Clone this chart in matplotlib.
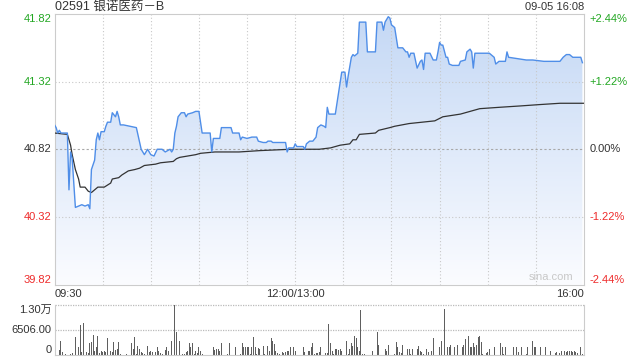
import matplotlib
matplotlib.use("Agg")
import matplotlib.pyplot as plt
import numpy as np
from matplotlib.colors import LinearSegmentedColormap

plt.rcParams['font.family'] = ['Liberation Sans', 'Noto Sans CJK SC', 'DejaVu Sans']

title = "02591 银诺医药－B"
stamp = "09-05 16:08"
prev_close = 40.82
price_ticks = [39.82, 40.32, 40.82, 41.32, 41.82]
pct_labels = ["-2.44%", "-1.22%", "0.00%", "+1.22%", "+2.44%"]
time_ticks = [0, 150, 330]
time_labels = ["09:30", "12:00/13:00", "16:00"]

# minutes since 09:30 (lunch break removed) and last price
price_min = [0, 1, 2, 3, 4, 8, 9, 10, 11, 13, 15, 17, 19, 21, 22, 23, 25, 26, 27, 28,
             29, 31, 32, 33, 35, 36, 38, 39, 40, 41, 43, 51, 54, 56, 58, 60, 62, 64, 67, 69,
             72, 73, 74, 75, 76, 77, 79, 81, 82, 83, 86, 88, 90, 91, 92, 97, 98, 99, 103, 104,
             110, 111, 115, 116, 117, 120, 123, 126, 127, 130, 132, 133, 135, 136, 144, 145, 146, 149, 150, 151,
             155, 156, 157, 159, 161, 163, 164, 166, 168, 169, 170, 171, 175, 179, 181, 182, 183, 185, 186, 187,
             189, 190, 194, 195, 200, 201, 204, 205, 206, 208, 209, 210, 212, 214, 217, 219, 220, 221, 222, 224,
             226, 228, 229, 230, 231, 234, 236, 238, 239, 240, 241, 242, 244, 245, 246, 248, 252, 253, 256, 257,
             259, 260, 261, 262, 271, 274, 275, 277, 281, 282, 283, 294, 298, 305, 315, 317, 319, 321, 323, 328,
             329]
price = [41.00, 40.98, 40.94, 40.96, 40.94, 40.94, 40.52, 40.80, 40.75, 40.39, 40.40, 40.41, 40.40, 40.41, 40.38, 40.67, 40.74, 40.89, 40.94, 40.89,
         40.95, 40.95, 40.99, 41.02, 41.02, 41.09, 41.06, 41.10, 41.06, 41.00, 41.00, 40.98, 40.82, 40.78, 40.82, 40.78, 40.77, 40.82, 40.82, 40.80,
         40.82, 40.80, 40.82, 40.94, 40.99, 41.06, 41.09, 41.09, 41.06, 41.08, 41.09, 41.10, 41.10, 41.02, 40.94, 40.94, 40.80, 40.90, 40.90, 40.98,
         40.98, 40.94, 40.94, 40.89, 40.91, 40.90, 40.91, 40.91, 40.88, 40.87, 40.87, 40.88, 40.88, 40.87, 40.87, 40.80, 40.83, 40.83, 40.86, 40.84,
         40.84, 40.82, 40.86, 40.88, 40.88, 40.91, 40.98, 41.00, 40.99, 40.98, 41.13, 41.08, 41.08, 41.39, 41.39, 41.28, 41.36, 41.50, 41.52, 41.51,
         41.53, 41.76, 41.76, 41.54, 41.54, 41.76, 41.76, 41.70, 41.76, 41.80, 41.79, 41.74, 41.72, 41.57, 41.57, 41.54, 41.54, 41.50, 41.53, 41.53,
         41.42, 41.47, 41.48, 41.41, 41.53, 41.53, 41.48, 41.48, 41.54, 41.61, 41.59, 41.59, 41.50, 41.50, 41.45, 41.44, 41.44, 41.47, 41.48, 41.54,
         41.56, 41.54, 41.42, 41.53, 41.53, 41.50, 41.45, 41.47, 41.47, 41.54, 41.50, 41.48, 41.48, 41.47, 41.47, 41.50, 41.52, 41.52, 41.50, 41.50,
         41.46]

# average price line
avg_min = [0, 8, 10, 11, 13, 15, 16, 19, 21, 23, 25, 27, 31, 35, 36, 40, 42, 46, 50, 53,
           56, 63, 66, 74, 76, 78, 83, 88, 91, 100, 115, 128, 147, 165, 172, 175, 178, 184, 186, 188,
           190, 200, 202, 209, 212, 221, 237, 242, 253, 262, 265, 277, 290, 302, 315, 330]
avg_price = [40.94, 40.93, 40.85, 40.78, 40.67, 40.60, 40.54, 40.54, 40.51, 40.50, 40.52, 40.54, 40.54, 40.57, 40.60, 40.61, 40.63, 40.66, 40.67, 40.68,
             40.70, 40.71, 40.72, 40.73, 40.75, 40.76, 40.77, 40.78, 40.79, 40.80, 40.80, 40.81, 40.82, 40.82, 40.83, 40.84, 40.85, 40.86, 40.89, 40.89,
             40.93, 40.94, 40.96, 40.98, 40.99, 41.01, 41.03, 41.06, 41.08, 41.11, 41.12, 41.13, 41.14, 41.15, 41.16, 41.16]

vol_min = [3, 4, 5, 7, 10, 11, 13, 14, 15, 16,
           17, 18, 19, 20, 21, 22, 23, 24, 25, 26,
           27, 28, 29, 30, 31, 32, 33, 35, 36, 37,
           38, 39, 40, 41, 42, 44, 45, 48, 49, 50,
           51, 52, 53, 54, 55, 56, 58, 59, 60, 61,
           62, 63, 64, 65, 66, 67, 69, 70, 71, 73,
           75, 76, 78, 80, 81, 82, 83, 84, 85, 86,
           87, 88, 89, 90, 91, 92, 93, 94, 95, 97,
           98, 99, 100, 101, 102, 103, 104, 105, 107, 108,
           109, 111, 113, 114, 116, 117, 118, 119, 120, 121,
           122, 123, 124, 125, 126, 127, 128, 129, 130, 131,
           133, 134, 135, 136, 137, 138, 139, 140, 142, 143,
           144, 145, 146, 147, 148, 149, 150, 151, 152, 153,
           154, 155, 156, 158, 159, 160, 161, 162, 163, 164,
           165, 166, 167, 168, 169, 170, 171, 172, 173, 174,
           175, 176, 177, 178, 179, 180, 181, 182, 183, 184,
           185, 186, 187, 188, 189, 190, 191, 192, 193, 194,
           196, 197, 198, 199, 200, 201, 202, 203, 204, 205,
           206, 207, 208, 209, 211, 212, 213, 214, 215, 216,
           217, 218, 219, 220, 221, 222, 223, 224, 225, 226,
           227, 228, 229, 230, 231, 232, 233, 235, 236, 237,
           239, 240, 241, 242, 243, 244, 245, 246, 247, 248,
           249, 251, 252, 253, 254, 255, 256, 257, 258, 259,
           260, 261, 262, 263, 264, 265, 266, 267, 268, 269,
           270, 271, 272, 273, 274, 275, 277, 278, 279, 280,
           281, 283, 284, 286, 287, 288, 289, 290, 291, 293,
           294, 295, 297, 298, 299, 300, 302, 303, 304, 306,
           307, 309, 310, 312, 313, 314, 315, 316, 318, 319,
           320, 321, 322, 323, 324, 325, 326, 328, 329]
vol = [1310, 3750, 700, 260, 260, 440, 4800, 700, 2180, 7680,
       700, 8290, 1570, 870, 520, 3060, 3320, 5330, 1130, 2010,
       4890, 440, 1130, 700, 960, 870, 4370, 1130, 700, 3320,
       1310, 1570, 3320, 260, 90, 90, 170, 3060, 1570, 4800,
       260, 2270, 1570, 700, 440, 260, 2440, 700, 960, 700,
       520, 700, 2180, 1130, 440, 260, 1310, 2010, 1130, 3750,
       13010, 5940, 3580, 260, 260, 700, 960, 3060, 2010, 3060,
       260, 1130, 520, 2010, 1130, 260, 90, 90, 90, 90,
       90, 2010, 1310, 1570, 1570, 1130, 3060, 260, 90, 260,
       3060, 90, 2010, 90, 260, 3060, 2010, 2010, 2010, 2010,
       260, 2010, 4630, 2010, 260, 1750, 1570, 90, 2270, 260,
       2440, 960, 4370, 3750, 2880, 1130, 520, 260, 700, 440,
       700, 1130, 1130, 2010, 260, 2010, 1130, 90, 90, 3320,
       90, 2010, 700, 1130, 1130, 2010, 3060, 260, 440, 440,
       700, 2010, 90, 90, 520, 520, 7940, 3060, 1130, 260,
       1570, 1570, 1310, 1570, 1130, 90, 90, 3750, 260, 1570,
       3060, 2270, 4890, 4370, 2010, 1130, 11610, 260, 260, 90,
       1570, 90, 960, 90, 90, 5940, 2710, 90, 90, 90,
       1570, 1130, 2710, 90, 90, 260, 3320, 2010, 700, 440,
       2710, 90, 90, 1570, 1570, 260, 1570, 90, 90, 1570,
       2440, 1130, 700, 260, 90, 1570, 700, 1130, 4370, 90,
       2010, 2010, 3750, 90, 11870, 260, 2010, 2010, 2710, 90,
       2010, 2710, 90, 90, 2010, 2710, 4190, 90, 5060, 2010,
       2010, 3060, 2010, 2710, 4630, 5060, 3320, 260, 90, 440,
       700, 1570, 90, 90, 2010, 90, 90, 3060, 2010, 260,
       2010, 90, 90, 2010, 2010, 2010, 700, 90, 2010, 90,
       260, 2010, 90, 3750, 2010, 2010, 90, 2010, 90, 2010,
       90, 1130, 90, 440, 700, 90, 440, 1130, 1130, 700,
       1130, 1130, 1130, 700, 1130, 700, 440, 2010, 260]
vol_ticks = [0, 6506, 13012]
vol_labels = ["0", "6506.00", "1.30万"]

green = '#22a722'
red = '#ee2b2b'
dark = '#333333'
grid_c = '#c8c8c8'

fig = plt.figure(figsize=(6.4, 3.6), dpi=100)
ax = fig.add_axes([0.0852, 0.2097, 0.8273, 0.7514])
vax = fig.add_axes([0.0852, 0.0139, 0.8273, 0.1389])

# gradient fill under price
poly = ax.fill_between(price_min, price, price_ticks[0], facecolor='none', edgecolor='none')
grad = np.linspace(1, 0, 256).reshape(-1, 1)
cmap = LinearSegmentedColormap.from_list('fade', ['#fbfcff', '#c4d8f5'])
im = ax.imshow(grad, extent=[0, 330, price_ticks[0], price_ticks[-1]], aspect='auto',
               cmap=cmap, origin='upper', zorder=1)
im.set_clip_path(poly.get_paths()[0], transform=ax.transData)

for m in range(30, 330, 30):
    ax.axvline(m, color=grid_c, lw=0.8, ls=(0, (1, 2)), zorder=2)
for p in [price_ticks[1], price_ticks[3]]:
    ax.axhline(p, color=grid_c, lw=0.8, ls=(0, (1, 2)), zorder=2)
ax.axhline(prev_close, color='#a8a8a8', lw=0.8, ls=(0, (2, 2)), zorder=2)

ax.plot(price_min, price, color='#4f8ee8', lw=1.0, zorder=4)
ax.plot(avg_min, avg_price, color=dark, lw=0.9, zorder=3)

ax.set_xlim(0, 330)
ax.set_ylim(price_ticks[0], price_ticks[-1])
ax.set_xticks([])
ax.set_yticks([])
for s in ax.spines.values():
    s.set_color('#cccccc')

colors = [red, red, dark, green, green]
vas = ['bottom', 'center', 'center', 'center', 'top']
ytr = ax.get_yaxis_transform()
for p, pl, c, va in zip(price_ticks, pct_labels, colors, vas):
    ax.text(-0.006, p, f"{p:.2f}", transform=ytr, ha='right', va=va, color=c, fontsize=8)
    ax.text(1.01, p, pl, transform=ytr, ha='left', va=va, color=c, fontsize=8)

xtr = ax.get_xaxis_transform()
for t, lab, ha in zip(time_ticks, time_labels, ['left', 'center', 'right']):
    ax.text(t, -0.018, lab, transform=xtr, ha=ha, va='top', color=dark, fontsize=8)

ax.text(0.979, 0.008, 'sina.com', transform=ax.transAxes, ha='right', va='bottom',
        color='#c8c8c8', fontsize=8)

fig.text(0.0852, 0.981, title, ha='left', va='center', color=dark, fontsize=9)
fig.text(0.9125, 0.981, stamp, ha='right', va='center', color=dark, fontsize=8)

# volume panel
vax.bar(vol_min, vol, width=0.6, color='#5f5f5f', zorder=2)
vax.set_xlim(0, 330)
vax.set_ylim(0, vol_ticks[-1])
for v in vol_ticks[1:]:
    vax.axhline(v, color='#bbbbbb', lw=0.9, ls=(0, (1, 1)), zorder=1, clip_on=False)
vax.set_xticks([])
vax.set_yticks([])
vax.spines['top'].set_visible(False)
for k in ['left', 'right', 'bottom']:
    vax.spines[k].set_color('#cccccc')
vtr = vax.get_yaxis_transform()
for v, lab, va in zip(vol_ticks, vol_labels, ['bottom', 'center', 'top']):
    vax.text(-0.006, v, lab, transform=vtr, ha='right', va=va, color=dark, fontsize=8)

fig.savefig('out.png', dpi=100)
